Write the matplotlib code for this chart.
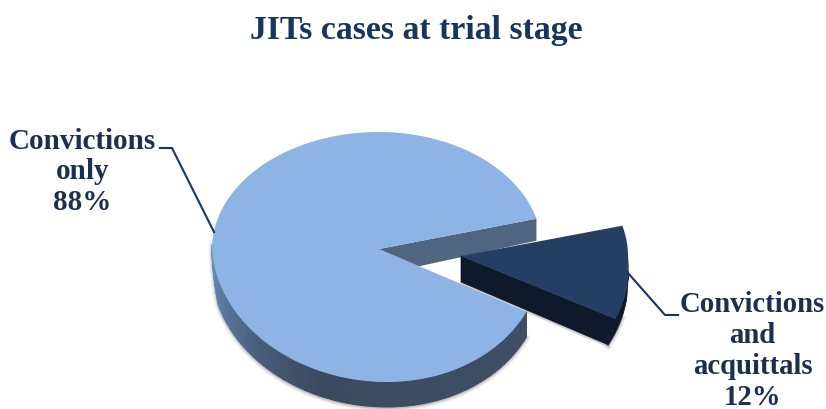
import numpy as np
import matplotlib
matplotlib.use('Agg')
import matplotlib.pyplot as plt
from matplotlib.colors import LinearSegmentedColormap
from matplotlib.patches import Polygon

# данные
title = "JITs cases at trial stage"
categories = ["Convictions\nand\nacquittals", "Convictions\nonly"]
shares = [12, 88]

FONT = ['Liberation Serif', 'DejaVu Serif']
TEXT_COLOR = '#1b3050'
LINE_COLOR = '#17365d'

BIG_TOP = '#8db4e5'
BIG_INNER = '#50657f'
SMALL_TOP = '#243f63'
SMALL_WALL = '#0e1a2b'
wall_cmap = LinearSegmentedColormap.from_list(
    'wall', [(0, '#3f4f65'), (0.55, '#3a4a5f'), (0.72, '#4a5e7c'), (0.88, '#5d7aa3'), (1, '#7093c5')])


def arc(t1, t2, cx, cy, rx=167, rx_right=None, up=117, down=133, shear=0, n=200):
    # эллипс с перспективой: передняя половина чуть больше задней
    t = np.radians(np.linspace(t1, t2, n))
    x, y = np.cos(t), np.sin(t)
    r = np.where(x > 0, rx if rx_right is None else rx_right, rx)
    px = cx + r * x + shear * np.where(y < 0, -y, 0)
    py = cy - y * np.where(y > 0, up, down)
    return np.column_stack([px, py])


fig = plt.figure(figsize=(8.26, 4.10), dpi=100)
ax = fig.add_axes([0, 0, 1, 1])

# углы секторов берём из pie
wedges, _ = ax.pie(shares, startangle=-28.2, counterclock=True)
(small_t1, small_t2), (big_t1, big_t2) = [(w.theta1, w.theta2) for w in wedges]
for w in wedges:
    w.remove()

ax.set_aspect('auto')
ax.set_xlim(0, 826)
ax.set_ylim(410, 0)
ax.axis('off')

big_c = (379, 250)
small_c = (461, 257)
big_shape = dict(rx_right=163, shear=8)
big_depth = 25
small_depth = 26

# внутренняя стенка большого сектора
end = arc(big_t1, big_t1, *big_c, n=1, **big_shape)[0]
ax.add_patch(Polygon([big_c, end, (end[0], end[1] + 22), (big_c[0], big_c[1] + 26)],
                     facecolor=BIG_INNER, edgecolor='none', zorder=1))

# малый сектор: тень, стенки, верх
small_top = arc(small_t1, small_t2, *small_c, shear=15)
small_bot = arc(small_t1, small_t2, small_c[0], small_c[1] + small_depth)
for lw, a in [(5, 0.08), (3, 0.12), (1.5, 0.2)]:
    ax.plot(small_bot[:60, 0], small_bot[:60, 1] + 1, color='#555555', lw=lw, alpha=a, zorder=1.5)
ax.plot([small_c[0], small_bot[0, 0]], [small_c[1] + small_depth + 1, small_bot[0, 1] + 1],
        color='#777777', lw=2, alpha=0.35, zorder=1.5)
ax.add_patch(Polygon(np.vstack([small_top[:100], small_bot[:100][::-1]]),
                     facecolor=SMALL_WALL, edgecolor=SMALL_WALL, lw=0.5, zorder=2))
ax.add_patch(Polygon([small_c, small_top[0], small_bot[0], (small_c[0], small_c[1] + small_depth)],
                     facecolor=SMALL_WALL, edgecolor=SMALL_WALL, lw=0.5, zorder=2))
ax.add_patch(Polygon(np.vstack([[small_c], small_top]), facecolor=SMALL_TOP, edgecolor='none', zorder=3))

# большой сектор: внешняя стенка с градиентом, слева сходит на нет
wall_t = np.linspace(big_t2, 178, 160)
wall_top = arc(big_t2, 178, *big_c, n=160, **big_shape)
wall_bot = wall_top.copy()
wall_bot[:, 1] += big_depth * np.clip((wall_t - 178) / 15, 0, 1)
for lw, a in [(5, 0.08), (3, 0.12), (1.5, 0.2)]:
    ax.plot(wall_bot[:, 0], wall_bot[:, 1] + 1, color='#555555', lw=lw, alpha=a, zorder=3.5)
wall_x = np.vstack([wall_top[:, 0], wall_bot[:, 0]])
wall_y = np.vstack([wall_top[:, 1], wall_bot[:, 1]])
wall_c = np.tile(np.linspace(0, 1, len(wall_top)), (2, 1))
ax.pcolormesh(wall_x, wall_y, wall_c, shading='gouraud', cmap=wall_cmap, zorder=4)

big_top = arc(big_t1, big_t2, *big_c, n=400, **big_shape)
ax.add_patch(Polygon(np.vstack([[big_c], big_top]), facecolor=BIG_TOP, edgecolor='none', zorder=5))

# выноски
ax.plot([160, 172, 214], [149, 149, 233], color=LINE_COLOR, lw=1.5, zorder=6)
ax.plot([628, 665, 678], [274, 316, 316], color=LINE_COLOR, lw=1.5, zorder=6)

# подписи
ax.text(416.5, 30, title, ha='center', va='center', fontsize=24.3, fontweight='bold',
        family=FONT, color=LINE_COLOR)
ax.text(82.5, 172, f"{categories[1]}\n{shares[1]}%", ha='center', va='center', fontsize=21,
        fontweight='bold', family=FONT, color=TEXT_COLOR, linespacing=1.18)
ax.text(752.5, 351, f"{categories[0]}\n{shares[0]}%", ha='center', va='center', fontsize=20.7,
        fontweight='bold', family=FONT, color=TEXT_COLOR, linespacing=1.18)

fig.savefig('out.png', dpi=100)
